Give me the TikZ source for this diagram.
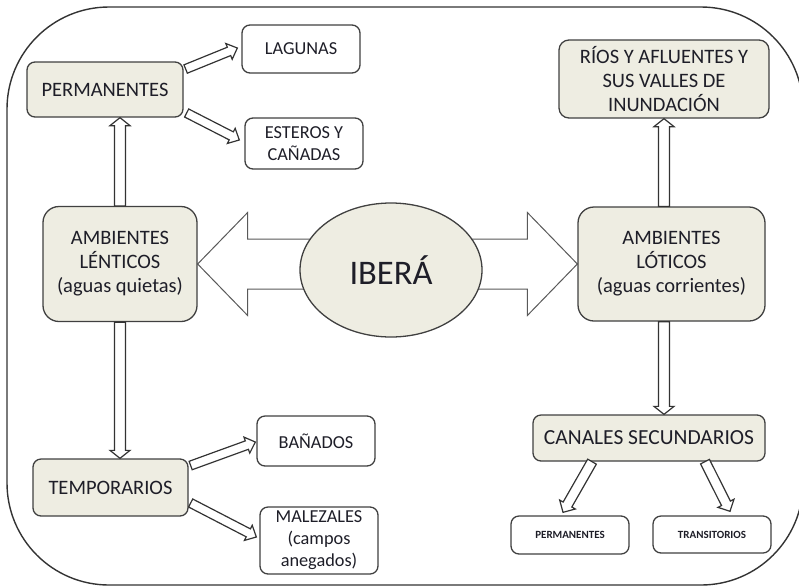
\documentclass[tikz,border=0pt]{standalone}
\usepackage{fontspec}
\setmainfont{Carlito}
\usetikzlibrary{calc,shapes.geometric,backgrounds}
\definecolor{cream}{RGB}{238,237,226}
\definecolor{edge}{RGB}{64,64,64}
\definecolor{ink}{RGB}{30,30,40}
% #1 style, #2 from, #3 to, #4 half shaft, #5 half head, #6 head length
\newcommand\hollowarrow[6][thinarrow]{%
  \draw[#1] let \p1=(#2), \p2=(#3),
      \n1={atan2(\y2-\y1,\x2-\x1)}, \n2={veclen(\x2-\x1,\y2-\y1)} in
    ([shift={(\p1)},rotate=\n1]0pt,-#4)
    -- ([shift={(\p1)},rotate=\n1]{\n2-#6},-#4)
    -- ([shift={(\p1)},rotate=\n1]{\n2-#6},-#5)
    -- ([shift={(\p1)},rotate=\n1]{\n2+0pt},0pt)
    -- ([shift={(\p1)},rotate=\n1]{\n2-#6},#5)
    -- ([shift={(\p1)},rotate=\n1]{\n2-#6},#4)
    -- ([shift={(\p1)},rotate=\n1]0pt,#4) -- cycle;}
\begin{document}
\begin{tikzpicture}[x=1pt,y=-1pt,
  box/.style={draw=edge, line width=1.3pt, rounded corners=8pt, fill=cream,
    align=center, inner sep=0pt, text=ink, font=\fontsize{20.5}{24}\selectfont},
  leaf/.style={box, fill=white, font=\fontsize{18.3}{22}\selectfont},
  oval/.style={draw=edge, line width=1.3pt, ellipse, fill=cream, inner sep=0pt,
    text=ink, font=\fontsize{34.5}{40}\selectfont},
  frame/.style={draw=black!80, line width=1.4pt, rounded corners=102pt},
  thinarrow/.style={draw=black!80, line width=1.2pt, fill=white, line join=miter},
  bigarrow/.style={draw=black!65, line width=1pt, fill=white, line join=miter},
  tiny/.style={font=\fontsize{11}{13}\selectfont\bfseries}]
\useasboundingbox (0,0) rectangle (799,587);
\draw[frame] (7,7) rectangle (803,585);

\node[box, minimum width=156pt, minimum height=55pt] (perm) at (105,89.5) {PERMANENTES};
\node[leaf, minimum width=118pt, minimum height=48pt] (lag) at (301,49) {LAGUNAS};
\node[leaf, minimum width=118pt, minimum height=51pt] (est) at (304,143.5) {ESTEROS Y\\CAÑADAS};
\node[box, rounded corners=10pt, minimum width=210pt, minimum height=78pt] (rios) at (664,79) {RÍOS Y AFLUENTES Y\\SUS VALLES DE\\INUNDACIÓN};
\node[box, rounded corners=16pt, minimum width=154pt, minimum height=115pt] (lent) at (120,264) {AMBIENTES\\LÉNTICOS\\(aguas quietas)};
\node[oval, minimum width=182pt, minimum height=134pt] (ibera) at (391,270) {IBERÁ};
\node[box, rounded corners=16pt, minimum width=187pt, minimum height=114pt] (lot) at (671.5,264) {AMBIENTES\\LÓTICOS\\(aguas corrientes)};
\node[box, minimum width=155pt, minimum height=57pt] (temp) at (110.5,487.5) {TEMPORARIOS};
\node[leaf, minimum width=118pt, minimum height=50pt] (ban) at (316,441) {BAÑADOS};
\node[leaf, minimum width=118pt, minimum height=67pt] (mal) at (319,540.5) {MALEZALES\\(campos\\anegados)};
\node[box, minimum width=232pt, minimum height=46pt, font=\fontsize{21.5}{25}\selectfont] (canal) at (649,438) {CANALES SECUNDARIOS};
\node[leaf, tiny, minimum width=118pt, minimum height=38pt] (perm2) at (570,535) {PERMANENTES};
\node[leaf, tiny, minimum width=118pt, minimum height=37pt] (trans) at (712,534.5) {TRANSITORIOS};

\begin{pgfonlayer}{background}
\hollowarrow[bigarrow]{ibera.center |- lent.east}{lent.east}{25pt}{51.5pt}{50pt}
\hollowarrow[bigarrow]{ibera.center |- lot.west}{lot.west}{25pt}{51.5pt}{50pt}
\end{pgfonlayer}

\hollowarrow{lent.north}{lent.north |- perm.south}{5.5pt}{10pt}{8pt}
\hollowarrow{lent.south}{lent.south |- temp.north}{5.5pt}{10pt}{8pt}
\hollowarrow{rios.south |- lot.north}{rios.south}{5.5pt}{10pt}{8pt}
\hollowarrow{rios.south |- lot.south}{rios.south |- canal.north}{5.5pt}{10pt}{8pt}
\hollowarrow{$(perm.east)+(2,-20.5)$}{$(lag.west)+(-4,-1)$}{4.5pt}{8.5pt}{9pt}
\hollowarrow{$(perm.east)+(3,23.5)$}{$(est.west)+(-5,-3.5)$}{4.5pt}{8.5pt}{9pt}
\hollowarrow{$(temp.east)+(2,-22)$}{$(ban.west)+(-1,1)$}{4.5pt}{8.5pt}{9pt}
\hollowarrow{$(temp.east)+(2,15.5)$}{$(mal.west)+(-3,-3.5)$}{4.5pt}{8.5pt}{9pt}
\hollowarrow{$(canal.south)+(-57,0)$}{$(perm2.north)+(-7,-3)$}{5pt}{9pt}{9pt}
\hollowarrow{$(canal.south)+(56,0)$}{$(trans.north)+(18,-4)$}{5pt}{9pt}{9pt}
\end{tikzpicture}
\end{document}
